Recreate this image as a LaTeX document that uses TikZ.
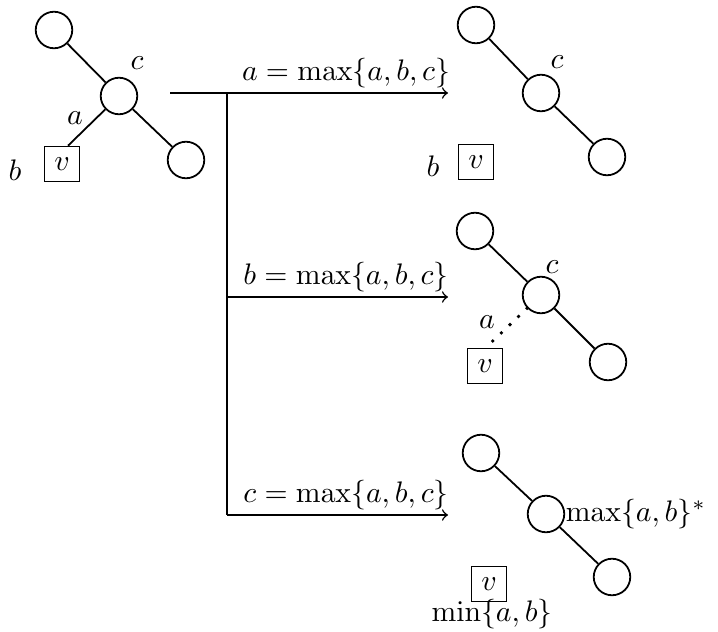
\documentclass[tikz,border=0pt]{standalone}
\usetikzlibrary{calc}
\begin{document}
\begin{tikzpicture}[x=0.3367pt,y=-0.3367pt,
  vert/.style={circle,draw,line width=0.6pt,minimum size=12.3pt,inner sep=0pt},
  vbox/.style={draw,line width=0.5pt,minimum size=11.8pt,inner sep=0pt},
  edge/.style={line width=0.6pt},
  dotedge/.style={line width=1.3pt,line cap=round,dash pattern=on 0pt off 4pt},
  flow/.style={line width=0.5pt},
  lbl/.style={inner sep=0pt}]
\useasboundingbox (0,0) rectangle (718,632);
% left tree
\node[vert] (l1) at (54,30) {};
\node[vert] (l2) at (119,96) {};
\node[vert] (l3) at (186,160) {};
\node[vbox] (lv) at (62,164) {$v$};
\draw[edge] (l1) -- (l2) -- (l3);
\draw[edge] (l2) -- ($(lv.north)+(6,0)$);
\node[lbl] (lc) at (137,63) {$c$};
\node[lbl] (la) at (75,118) {$a$};
\node[lbl] (lb) at (15,170) {$b$};
% flow arrows
\coordinate (s) at (170,93);
\coordinate (j1) at (227,93);
\coordinate (j2) at (227,297);
\coordinate (j3) at (227,515);
\coordinate (e1) at (448,93);
\coordinate (e2) at (448,297);
\coordinate (e3) at (448,515);
\draw[flow,->] (s) -- (e1);
\draw[flow] (j1) -- (j3);
\draw[flow,->] (j2) -- (e2);
\draw[flow,->] (j3) -- (e3);
\node[lbl,anchor=base] (t1) at (346,80) {$a=\max\{a,b,c\}$};
\node[lbl,anchor=base] (t2) at (346,284) {$b=\max\{a,b,c\}$};
\node[lbl,anchor=base] (t3) at (346,502) {$c=\max\{a,b,c\}$};
% right tree 1
\node[vert] (p1) at (476,25) {};
\node[vert] (p2) at (541,93) {};
\node[vert] (p3) at (607,157) {};
\draw[edge] (p1) -- (p2) -- (p3);
\node[lbl] (pc) at (557,62) {$c$};
\node[vbox] (pv) at (476,162) {$v$};
\node[lbl] (pb) at (433,166) {$b$};
% right tree 2
\node[vert] (q1) at (475,231) {};
\node[vert] (q2) at (541,295) {};
\node[vert] (q3) at (608,362) {};
\draw[edge] (q1) -- (q2) -- (q3);
\node[lbl] (qc) at (552,267) {$c$};
\node[lbl] (qa) at (487,322) {$a$};
\node[vbox] (qv) at (485,366) {$v$};
\draw[dotedge] (q2) -- ($(qv.north)+(6,-5)$);
% right tree 3
\node[vert] (r1) at (481,453) {};
\node[vert] (r2) at (546,514) {};
\node[vert] (r3) at (612,577) {};
\draw[edge] (r1) -- (r2) -- (r3);
\node[lbl,anchor=west] (rmax) at (r2.east) {$\max\{a,b\}^*$};
\node[vbox] (rv) at (489,584) {$v$};
\node[lbl] (rmin) at (492,614) {$\min\{a,b\}$};
\end{tikzpicture}
\end{document}
